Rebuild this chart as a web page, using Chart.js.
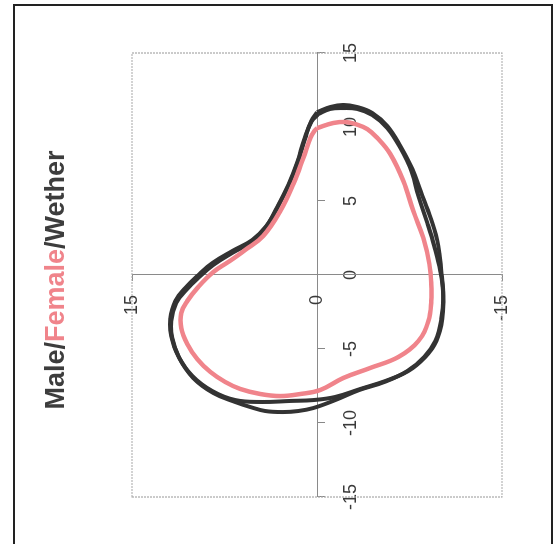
<!DOCTYPE html>
<html lang="en">
<head>
  <meta charset="UTF-8" />
  <title>Male/Female/Wether</title>
  <script src="https://cdn.jsdelivr.net/npm/chart.js"></script>
  <style>
    body {
      margin: 0;
      background: #fff;
      width: 555px;
      height: 544px;
      overflow: hidden;
      font-family: Arial, "Liberation Sans", sans-serif;
    }
    .frame {
      position: absolute;
      left: 13px;
      top: 4px;
      width: 536px;
      height: 560px;
      border: 2px solid #222;
      border-bottom: none;
    }
    /* the scan is turned a quarter turn, so the whole chart is rotated */
    .wrap {
      position: absolute;
      left: 0;
      top: 0;
      width: 544px;
      height: 555px;
      transform-origin: 0 0;
      transform: translate(0, 544px) rotate(-90deg);
    }
    .title {
      position: absolute;
      left: 0;
      top: 42px;
      width: 528px;
      text-align: center;
      font-size: 27px;
      line-height: 27px;
      font-weight: bold;
      color: #3d3d3d;
    }
    .title span { color: #f0848b; }
  </style>
</head>
<body>
  <div class="frame"></div>
  <div class="wrap">
    <div class="title">Male/<span>Female</span>/Wether</div>
    <canvas id="chart" width="544" height="555"></canvas>
  </div>

  <script>
    const xTicks = [-15, -10, -5, 0, 5, 10, 15];
    const yTicks = [-15, 0, 15];

    const maleX = [11.0, 11.35, 11.49, 11.35, 10.95, 10.07, 8.72, 7.16, 5.34, 3.51, 1.96, 0.27, -1.42, -2.97, -4.46, -5.54, -6.49, -7.16, -7.70, -8.24, -8.45, -8.51, -8.58, -8.45, -7.84, -6.82, -5.47, -4.12, -2.97, -1.76, -0.88, -0.07, 0.81, 1.62, 2.36, 3.31, 4.66, 6.15, 7.70, 9.26, 10.41, 11.0];
    const maleY = [0.0, -1.08, -2.13, -3.27, -4.48, -5.70, -6.76, -7.73, -8.54, -9.35, -9.84, -10.08, -10.24, -10.16, -9.68, -8.78, -7.40, -5.54, -3.51, -1.48, 0.30, 2.17, 4.44, 6.63, 8.49, 10.11, 11.25, 11.82, 11.90, 11.49, 10.68, 9.71, 8.49, 6.87, 5.25, 4.11, 3.14, 2.25, 1.52, 0.95, 0.46, 0.0];

    const wetherX = [10.88, 11.22, 11.28, 11.22, 10.81, 9.93, 8.58, 7.03, 5.34, 3.51, 1.96, 0.27, -1.42, -2.97, -4.46, -5.54, -6.49, -7.23, -7.77, -8.45, -8.99, -9.19, -9.26, -9.19, -8.92, -8.58, -7.97, -6.96, -5.61, -4.26, -3.11, -1.89, -1.01, -0.20, 0.68, 1.49, 2.23, 3.18, 4.59, 6.08, 7.64, 9.19, 10.34, 10.88];
    const wetherY = [-0.11, -1.08, -2.13, -3.27, -4.48, -5.70, -6.76, -7.65, -8.22, -8.95, -9.51, -10.0, -10.24, -10.08, -9.59, -8.70, -7.32, -5.46, -3.43, -1.48, 0.30, 1.52, 2.73, 4.19, 5.41, 6.63, 8.41, 10.03, 11.17, 11.74, 11.82, 11.41, 10.60, 9.63, 8.41, 6.87, 5.33, 4.19, 3.22, 2.33, 1.60, 1.03, 0.46, -0.11];

    const femaleX = [9.93, 10.27, 10.34, 10.20, 9.86, 9.26, 8.18, 6.35, 4.32, 2.50, 0.74, -0.61, -1.76, -3.11, -4.46, -5.54, -6.28, -6.96, -7.77, -8.04, -8.18, -8.04, -7.70, -7.23, -6.55, -5.68, -4.66, -3.58, -2.57, -1.76, -0.81, 0.20, 0.88, 1.69, 2.64, 4.32, 6.15, 7.91, 9.26, 9.73, 9.93];
    const femaleY = [-0.02, -1.32, -2.30, -3.11, -4.08, -4.89, -5.94, -7.00, -7.81, -8.62, -9.11, -9.27, -9.27, -9.03, -8.22, -6.59, -4.32, -2.13, -0.27, 1.35, 2.98, 4.60, 6.22, 7.44, 8.65, 9.71, 10.52, 11.01, 11.01, 10.52, 9.63, 8.41, 7.19, 5.82, 4.36, 2.98, 1.92, 1.11, 0.54, 0.22, -0.02];

    function toPoints(xs, ys) {
      return xs.map((x, i) => ({ x: x, y: ys[i] }));
    }

    // dotted grey box around the plot area
    const boxPlugin = {
      id: 'box',
      beforeDatasetsDraw(chart) {
        const a = chart.chartArea;
        const ctx = chart.ctx;
        ctx.save();
        ctx.strokeStyle = '#a8a8a8';
        ctx.lineWidth = 1.2;
        ctx.setLineDash([2, 1]);
        ctx.strokeRect(a.left, a.top, a.right - a.left, a.bottom - a.top);
        ctx.restore();
      }
    };

    const lineStyle = { showLine: true, pointRadius: 0, tension: 0.4, fill: false };

    new Chart(document.getElementById('chart'), {
      type: 'scatter',
      data: {
        datasets: [
          Object.assign({ label: 'Female', data: toPoints(femaleX, femaleY), borderColor: '#f0848b', borderWidth: 4.5 }, lineStyle),
          Object.assign({ label: 'Wether', data: toPoints(wetherX, wetherY), borderColor: '#333', borderWidth: 4 }, lineStyle),
          Object.assign({ label: 'Male', data: toPoints(maleX, maleY), borderColor: '#333', borderWidth: 4 }, lineStyle)
        ]
      },
      options: {
        responsive: false,
        animation: false,
        layout: { padding: { left: 47, right: 53, top: 132, bottom: 53 } },
        plugins: {
          legend: { display: false },
          tooltip: { enabled: false }
        },
        scales: {
          x: {
            type: 'linear',
            position: { y: 0 },
            min: -15,
            max: 15,
            afterBuildTicks: s => { s.ticks = xTicks.map(v => ({ value: v })); },
            grid: { drawOnChartArea: false, tickLength: 7, color: '#888' },
            border: { color: '#8a8a8a', width: 1 },
            ticks: { color: '#3a3a3a', font: { family: 'Arial', size: 18 }, padding: 16, maxRotation: 0 }
          },
          y: {
            type: 'linear',
            position: { x: 0 },
            min: -15,
            max: 15,
            afterBuildTicks: s => { s.ticks = yTicks.map(v => ({ value: v })); },
            grid: { drawOnChartArea: false, tickLength: 6, color: '#888' },
            border: { color: '#8a8a8a', width: 1 },
            // centred y axis ignores padding, so keep the labels off the line with spaces
            ticks: { color: '#3a3a3a', font: { family: 'Arial', size: 18 }, callback: v => v + '    ' }
          }
        }
      },
      plugins: [boxPlugin]
    });
  </script>
</body>
</html>
